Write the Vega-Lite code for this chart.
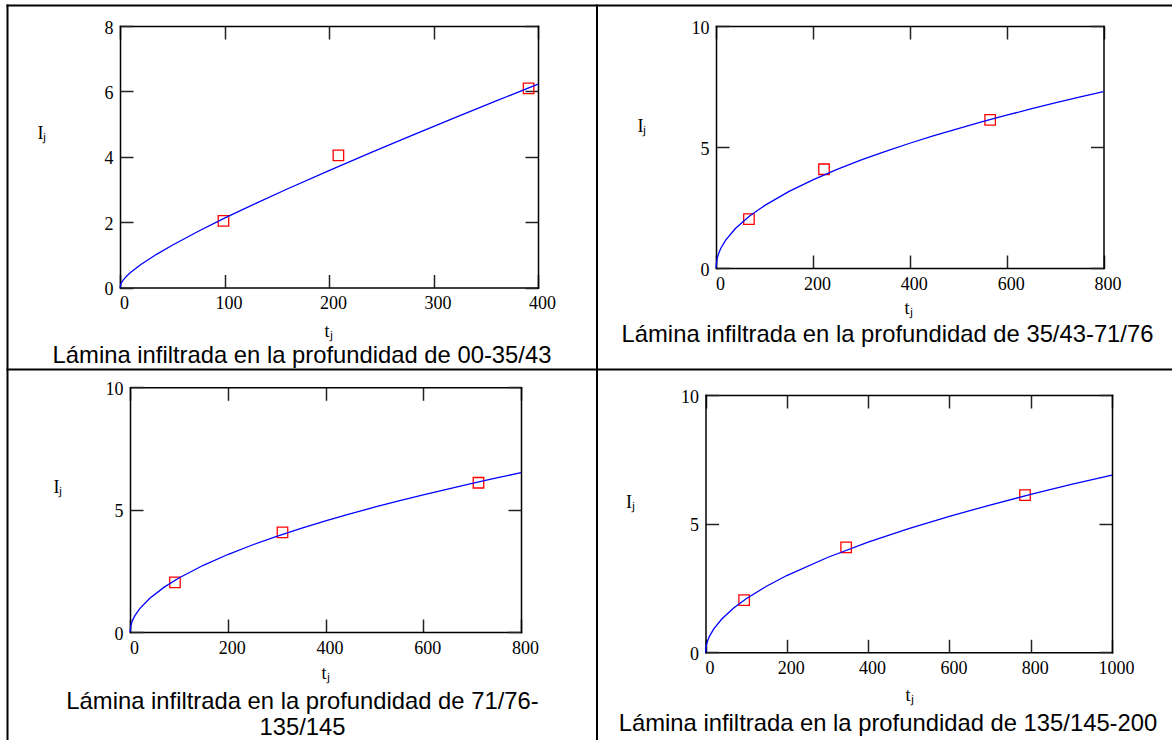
{
  "$schema": "https://vega.github.io/schema/vega-lite/v6.json",
  "background": "white",
  "width": 1172,
  "height": 740,
  "autosize": {"type": "none"},
  "padding": 0,
  "view": {"stroke": null},
  "config": {
    "axis": {"domain": true, "domainColor": "black", "domainWidth": 1.5, "domainCap": "square", "grid": false,
      "tickSize": -13, "tickColor": "#222222", "tickWidth": 1.5,
      "labelFont": "Liberation Serif", "labelFontSize": 18, "labelColor": "black", "labelFlush": false, "labelOverlap": false, "labelBound": false,
      "titleFont": "Liberation Serif", "titleFontSize": 18, "titleFontWeight": "normal", "titleColor": "black", "titleAngle": 0, "titleBaseline": "middle"},
    "axisX": {"labelPadding": 20, "labelOffset": 4, "titleAlign": "center"},
    "axisY": {"labelPadding": 20, "labelOffset": 2, "titleAlign": "left"}
  },
  "datasets": {
    "curve": [
      {"p":1,"t":0,"I":0},{"p":1,"t":1,"I":0.123},{"p":1,"t":3,"I":0.226},{"p":1,"t":6,"I":0.336},{"p":1,"t":10,"I":0.456},{"p":1,"t":20,"I":0.703},{"p":1,"t":35,"I":1.015},{"p":1,"t":50,"I":1.294},{"p":1,"t":75,"I":1.721},{"p":1,"t":100,"I":2.12},{"p":1,"t":130,"I":2.575},{"p":1,"t":160,"I":3.013},{"p":1,"t":200,"I":3.578},{"p":1,"t":240,"I":4.127},{"p":1,"t":280,"I":4.663},{"p":1,"t":320,"I":5.189},{"p":1,"t":360,"I":5.708},{"p":1,"t":400,"I":6.22},
      {"p":2,"t":0,"I":0},{"p":2,"t":2,"I":0.364},{"p":2,"t":5,"I":0.576},{"p":2,"t":10,"I":0.815},{"p":2,"t":20,"I":1.153},{"p":2,"t":40,"I":1.63},{"p":2,"t":70,"I":2.156},{"p":2,"t":100,"I":2.577},{"p":2,"t":150,"I":3.157},{"p":2,"t":200,"I":3.645},{"p":2,"t":250,"I":4.075},{"p":2,"t":300,"I":4.464},{"p":2,"t":350,"I":4.822},{"p":2,"t":400,"I":5.155},{"p":2,"t":450,"I":5.467},{"p":2,"t":500,"I":5.763},{"p":2,"t":550,"I":6.044},{"p":2,"t":600,"I":6.313},{"p":2,"t":650,"I":6.571},{"p":2,"t":700,"I":6.819},{"p":2,"t":750,"I":7.058},{"p":2,"t":800,"I":7.29},
      {"p":3,"t":0,"I":0},{"p":3,"t":2,"I":0.289},{"p":3,"t":5,"I":0.465},{"p":3,"t":10,"I":0.666},{"p":3,"t":20,"I":0.956},{"p":3,"t":40,"I":1.371},{"p":3,"t":70,"I":1.834},{"p":3,"t":100,"I":2.208},{"p":3,"t":150,"I":2.726},{"p":3,"t":200,"I":3.166},{"p":3,"t":250,"I":3.556},{"p":3,"t":300,"I":3.909},{"p":3,"t":350,"I":4.235},{"p":3,"t":400,"I":4.541},{"p":3,"t":450,"I":4.827},{"p":3,"t":500,"I":5.099},{"p":3,"t":550,"I":5.357},{"p":3,"t":600,"I":5.604},{"p":3,"t":650,"I":5.843},{"p":3,"t":700,"I":6.073},{"p":3,"t":750,"I":6.295},{"p":3,"t":800,"I":6.51},
      {"p":4,"t":0,"I":0},{"p":4,"t":2,"I":0.272},{"p":4,"t":5,"I":0.438},{"p":4,"t":10,"I":0.629},{"p":4,"t":20,"I":0.901},{"p":4,"t":40,"I":1.292},{"p":4,"t":70,"I":1.729},{"p":4,"t":100,"I":2.081},{"p":4,"t":150,"I":2.569},{"p":4,"t":200,"I":2.983},{"p":4,"t":300,"I":3.684},{"p":4,"t":400,"I":4.279},{"p":4,"t":500,"I":4.805},{"p":4,"t":600,"I":5.283},{"p":4,"t":700,"I":5.724},{"p":4,"t":800,"I":6.135},{"p":4,"t":900,"I":6.523},{"p":4,"t":1000,"I":6.89}
    ],
    "pts": [
      {"p":1,"t":99,"I":2.04},{"p":1,"t":209,"I":4.04},{"p":1,"t":391,"I":6.09},
      {"p":2,"t":68,"I":2.02},{"p":2,"t":223,"I":4.08},{"p":2,"t":566,"I":6.12},
      {"p":3,"t":92,"I":2.03},{"p":3,"t":312,"I":4.07},{"p":3,"t":713,"I":6.1},
      {"p":4,"t":95,"I":2.03},{"p":4,"t":346,"I":4.08},{"p":4,"t":786,"I":6.11}
    ]
  },
  "layer": [
    {"data": {"values": []}, "mark": "point",
     "encoding": {
       "x": {"field": "t", "type": "quantitative", "scale": {"domain": [0, 1], "range": [6, 1172], "nice": false, "zero": false}, "axis": {"orient": "top", "offset": -5, "domainWidth": 2, "domainCap": "butt", "ticks": false, "labels": false, "title": null}},
       "y": {"field": "I", "type": "quantitative", "scale": {"domain": [0, 1], "range": [740, 4], "nice": false, "zero": false}, "axis": {"orient": "left", "offset": -7, "domainWidth": 2, "domainCap": "butt", "ticks": false, "labels": false, "title": null}}
     }},
    {"data": {"values": []}, "mark": "point",
     "encoding": {
       "x": {"field": "t", "type": "quantitative", "scale": {"domain": [0, 1], "range": [6, 1172], "nice": false, "zero": false}, "axis": {"orient": "bottom", "offset": -371, "domainWidth": 2, "domainCap": "butt", "ticks": false, "labels": false, "title": null}},
       "y": {"field": "I", "type": "quantitative", "scale": {"domain": [0, 1], "range": [740, 4], "nice": false, "zero": false}, "axis": {"orient": "left", "offset": -596.5, "domainWidth": 2, "domainCap": "butt", "ticks": false, "labels": false, "title": null}}
     }},

    {"data": {"name": "pts"}, "transform": [{"filter": "datum.p == 1"}],
     "mark": {"type": "point", "shape": "square", "size": 110, "filled": false, "color": "#ff0000", "strokeWidth": 1.3, "opacity": 1},
     "encoding": {
       "x": {"field": "t", "type": "quantitative", "scale": {"domain": [0, 400], "range": [120, 538], "nice": false, "zero": false},
             "axis": {"orient": "top", "offset": -26, "values": [0, 100, 200, 300, 400], "labels": false,
                      "title": "Lámina infiltrada en la profundidad de 00-35/43", "titleFont": "Liberation Sans", "titleFontSize": 23.8, "titleX": 301.5, "titleY": 329}},
       "y": {"field": "I", "type": "quantitative", "scale": {"domain": [0, 8], "range": [287.5, 26], "nice": false, "zero": false},
             "axis": {"orient": "right", "offset": -634, "values": [0, 2, 4, 6, 8], "labels": false, "title": null}}
     }},
    {"data": {"name": "curve"}, "transform": [{"filter": "datum.p == 1"}],
     "mark": {"type": "line", "color": "#0000ff", "strokeWidth": 1.3},
     "encoding": {
       "x": {"field": "t", "type": "quantitative", "scale": {"domain": [0, 400], "range": [120, 538], "nice": false, "zero": false},
             "axis": {"orient": "bottom", "offset": -452.5, "values": [0, 100, 200, 300, 400], "format": "d", "title": "tⱼ", "titleX": 328, "titleY": 44}},
       "y": {"field": "I", "type": "quantitative", "scale": {"domain": [0, 8], "range": [287.5, 26], "nice": false, "zero": false},
             "axis": {"orient": "left", "offset": -120, "values": [0, 2, 4, 6, 8], "format": "d", "title": "Iⱼ", "titleX": -83, "titleY": 133}}
     }},

    {"data": {"name": "pts"}, "transform": [{"filter": "datum.p == 2"}],
     "mark": {"type": "point", "shape": "square", "size": 110, "filled": false, "color": "#ff0000", "strokeWidth": 1.3, "opacity": 1},
     "encoding": {
       "x": {"field": "t", "type": "quantitative", "scale": {"domain": [0, 800], "range": [716, 1103.5], "nice": false, "zero": false},
             "axis": {"orient": "top", "offset": -26, "values": [0, 200, 400, 600, 800], "labels": false,
                      "title": "Lámina infiltrada en la profundidad de 35/43-71/76", "titleFont": "Liberation Sans", "titleFontSize": 23.8, "titleX": 887, "titleY": 308.3}},
       "y": {"field": "I", "type": "quantitative", "scale": {"domain": [0, 10], "range": [268, 26], "nice": false, "zero": false},
             "axis": {"orient": "right", "offset": -68.5, "values": [0, 5, 10], "labels": false, "title": null}}
     }},
    {"data": {"name": "curve"}, "transform": [{"filter": "datum.p == 2"}],
     "mark": {"type": "line", "color": "#0000ff", "strokeWidth": 1.3},
     "encoding": {
       "x": {"field": "t", "type": "quantitative", "scale": {"domain": [0, 800], "range": [716, 1103.5], "nice": false, "zero": false},
             "axis": {"orient": "bottom", "offset": -472, "values": [0, 200, 400, 600, 800], "format": "d", "title": "tⱼ", "titleX": 908, "titleY": 40}},
       "y": {"field": "I", "type": "quantitative", "scale": {"domain": [0, 10], "range": [268, 26], "nice": false, "zero": false},
             "axis": {"orient": "left", "offset": -716, "values": [0, 5, 10], "format": "d", "title": "Iⱼ", "titleX": -79, "titleY": 126}}
     }},

    {"data": {"name": "pts"}, "transform": [{"filter": "datum.p == 3"}],
     "mark": {"type": "point", "shape": "square", "size": 110, "filled": false, "color": "#ff0000", "strokeWidth": 1.3, "opacity": 1},
     "encoding": {
       "x": {"field": "t", "type": "quantitative", "scale": {"domain": [0, 800], "range": [130, 521], "nice": false, "zero": false},
             "axis": {"orient": "top", "offset": -387.3, "values": [0, 200, 400, 600, 800], "labels": false,
                      "title": ["Lámina infiltrada en la profundidad de 71/76-", "135/145"], "titleLineHeight": 26, "titleFont": "Liberation Sans", "titleFontSize": 23.8, "titleX": 302, "titleY": 314.4}},
       "y": {"field": "I", "type": "quantitative", "scale": {"domain": [0, 10], "range": [632, 387.3], "nice": false, "zero": false},
             "axis": {"orient": "right", "offset": -651, "values": [0, 5, 10], "labels": false, "title": null}}
     }},
    {"data": {"name": "curve"}, "transform": [{"filter": "datum.p == 3"}],
     "mark": {"type": "line", "color": "#0000ff", "strokeWidth": 1.3},
     "encoding": {
       "x": {"field": "t", "type": "quantitative", "scale": {"domain": [0, 800], "range": [130, 521], "nice": false, "zero": false},
             "axis": {"orient": "bottom", "offset": -108, "values": [0, 200, 400, 600, 800], "format": "d", "title": "tⱼ", "titleX": 325, "titleY": 41}},
       "y": {"field": "I", "type": "quantitative", "scale": {"domain": [0, 10], "range": [632, 387.3], "nice": false, "zero": false},
             "axis": {"orient": "left", "offset": -130, "values": [0, 5, 10], "format": "d", "title": "Iⱼ", "titleX": -77, "titleY": 487}}
     }},

    {"data": {"name": "pts"}, "transform": [{"filter": "datum.p == 4"}],
     "mark": {"type": "point", "shape": "square", "size": 110, "filled": false, "color": "#ff0000", "strokeWidth": 1.3, "opacity": 1},
     "encoding": {
       "x": {"field": "t", "type": "quantitative", "scale": {"domain": [0, 1000], "range": [705.5, 1112], "nice": false, "zero": false},
             "axis": {"orient": "top", "offset": -395, "values": [0, 200, 400, 600, 800, 1000], "labels": false,
                      "title": "Lámina infiltrada en la profundidad de 135/145-200", "titleFont": "Liberation Sans", "titleFontSize": 23.8, "titleX": 887.5, "titleY": 328}},
       "y": {"field": "I", "type": "quantitative", "scale": {"domain": [0, 10], "range": [652.3, 395], "nice": false, "zero": false},
             "axis": {"orient": "right", "offset": -60, "values": [0, 5, 10], "labels": false, "title": null}}
     }},
    {"data": {"name": "curve"}, "transform": [{"filter": "datum.p == 4"}],
     "mark": {"type": "line", "color": "#0000ff", "strokeWidth": 1.3},
     "encoding": {
       "x": {"field": "t", "type": "quantitative", "scale": {"domain": [0, 1000], "range": [705.5, 1112], "nice": false, "zero": false},
             "axis": {"orient": "bottom", "offset": -87.7, "values": [0, 200, 400, 600, 800, 1000], "format": "d", "title": "tⱼ", "titleX": 909, "titleY": 43}},
       "y": {"field": "I", "type": "quantitative", "scale": {"domain": [0, 10], "range": [652.3, 395], "nice": false, "zero": false},
             "axis": {"orient": "left", "offset": -705.5, "values": [0, 5, 10], "format": "d", "title": "Iⱼ", "titleX": -80, "titleY": 502}}
     }}
  ],
  "resolve": {"scale": {"x": "independent", "y": "independent"}, "axis": {"x": "independent", "y": "independent"}}
}
